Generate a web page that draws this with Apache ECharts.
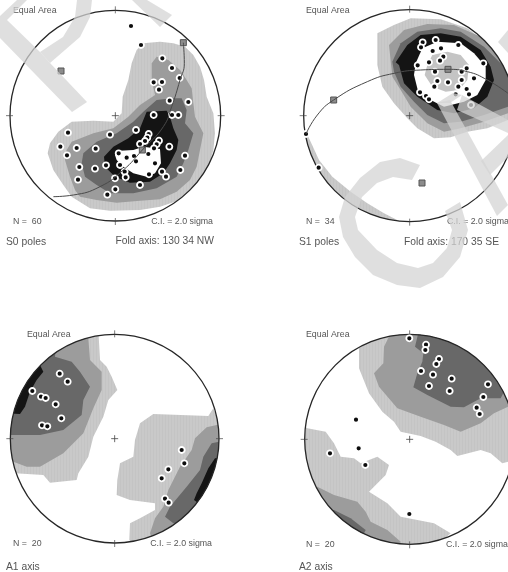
<!DOCTYPE html>
<html><head><meta charset="utf-8">
<style>html,body{margin:0;padding:0;background:#fff;overflow:hidden}#c{width:508px;height:572px;filter:blur(0.4px)}</style>
<script src="https://cdn.jsdelivr.net/npm/echarts@6/dist/echarts.min.js"></script>
</head><body><div id="c"></div>
<script>
// Net frames: centre x, centre y, radius, in plot units of each panel
const net1 = [346, 347, 316];
const net2 = [467, 347, 318];
const net3 = [344, 386, 313];
const net4 = [467, 388, 315];

// Panel S0 poles: contour polygons
const s0L1 = [[410,150],[430,130],[480,125],[520,130],[555,140],[580,165],[600,200],[612,240],[620,290],[640,340],[645,400],[640,450],[620,520],[590,560],[540,600],[480,620],[420,630],[330,632],[270,625],[215,590],[190,555],[160,510],[143,460],[150,430],[175,395],[215,365],[280,362],[340,365],[365,340],[368,290],[385,240],[395,190]];
const s0L2 = [[455,190],[470,170],[505,180],[540,210],[560,240],[575,265],[580,310],[585,350],[610,400],[600,450],[590,500],[570,540],[530,575],[480,598],[420,602],[350,608],[290,600],[240,590],[225,570],[210,530],[195,480],[200,450],[215,425],[280,400],[340,385],[385,350],[420,315],[465,285],[455,240]];
const s0L3 = [[430,335],[470,300],[515,295],[545,295],[560,330],[555,370],[580,400],[565,450],[550,490],[530,530],[470,565],[400,580],[330,580],[290,555],[255,530],[245,490],[250,460],[290,425],[350,400],[400,365]];
const s0L4 = [[440,335],[500,332],[510,350],[520,385],[535,420],[530,450],[510,490],[490,520],[450,545],[390,548],[345,530],[315,500],[312,470],[340,440],[385,415],[420,385]];
const s0L5 = [[360,452],[400,450],[430,440],[480,447],[483,490],[465,520],[440,530],[400,520],[370,500],[350,480],[345,465]];
const s0Points = [[393,78],[423,135],[487,175],[516,204],[539,234],[461,247],[486,246],[477,269],[509,302],[565,306],[461,345],[516,345],[535,345],[408,390],[330,404],[204,398],[181,440],[230,444],[201,466],[287,446],[446,402],[442,413],[435,423],[420,432],[477,422],[470,433],[462,445],[508,440],[445,462],[356,460],[380,473],[402,468],[408,484],[555,467],[465,490],[238,501],[285,506],[318,496],[360,495],[541,510],[486,515],[498,530],[447,523],[374,515],[377,532],[345,535],[234,539],[420,555],[346,568],[322,584]];
const s0Axes = [[550,128],[183,213],[427,450]];
const s0Girdle = [[550,128],[553,190],[540,240],[515,320],[490,380],[427,450],[370,510],[300,560],[220,585],[160,590]];

// Panel S1 poles
const s1L1 = [[370,100],[420,75],[470,55],[560,58],[640,85],[700,130],[762,200],[762,360],[700,385],[640,395],[590,412],[540,415],[490,385],[460,355],[420,310],[385,260],[370,195]];
const s1L2 = [[405,135],[450,90],[520,72],[600,75],[680,110],[762,200],[762,340],[690,365],[620,385],[570,395],[520,370],[470,320],[440,270],[415,230]];
const s1L3 = [[415,185],[440,130],[490,95],[560,85],[620,95],[690,140],[740,190],[762,215],[762,320],[690,345],[620,365],[570,370],[520,345],[480,305],[440,260],[420,215]];
const s1L4 = [[425,187],[460,135],[500,105],[560,100],[620,110],[680,150],[710,200],[720,240],[700,290],[660,325],[600,340],[550,330],[490,290],[450,250],[435,195]];
const s1L5 = [[485,190],[505,145],[550,125],[620,130],[660,160],[695,200],[695,240],[670,285],[630,305],[570,320],[530,300],[490,265],[480,225]];
const s1L6 = [[520,195],[535,165],[580,155],[620,165],[645,195],[640,240],[615,270],[575,275],[535,260],[512,225]];
const s1Rim = [[158,400],[172,430],[195,480],[235,530],[290,575],[340,610],[390,640],[440,665],[300,700],[100,500]];
const s1Points = [[506,127],[545,120],[501,142],[536,153],[561,145],[613,135],[568,170],[558,182],[525,187],[491,196],[688,190],[638,205],[623,215],[543,215],[660,235],[623,240],[550,243],[582,247],[541,260],[613,260],[638,267],[605,283],[645,283],[651,315],[498,277],[516,288],[525,298],[156,402],[194,503]];
const s1Axes = [[582,208],[239,300],[504,549]];
const s1Girdle = [[762,280],[700,240],[640,215],[582,208],[500,210],[420,220],[340,245],[239,300],[190,345],[156,402]];

// Panel A1 axis
const a1L1a = [[265,60],[295,60],[300,150],[320,170],[335,200],[352,240],[325,270],[310,320],[280,380],[265,440],[235,490],[230,510],[150,518],[130,495],[45,490],[0,490],[0,300],[100,60]];
const a1L2a = [[235,60],[265,85],[270,150],[305,185],[305,240],[280,295],[250,370],[190,430],[120,470],[80,470],[40,455],[0,400],[0,250],[100,60]];
const a1L3a = [[170,80],[165,140],[215,155],[240,185],[270,230],[250,270],[245,315],[190,360],[120,375],[30,375],[0,300],[0,200],[100,80]];
const a1L4a = [[120,165],[130,185],[110,210],[90,245],[75,290],[60,312],[10,310],[10,280],[60,180]];
const a1L1b = [[460,312],[625,318],[640,295],[680,400],[670,600],[560,680],[420,720],[388,690],[390,640],[420,625],[465,600],[465,580],[390,570],[350,555],[352,510],[360,460],[400,440],[405,390],[420,340]];
const a1L2b = [[650,345],[620,352],[585,385],[575,420],[540,470],[505,540],[490,590],[465,625],[450,670],[470,720],[720,600],[720,340]];
const a1L3b = [[660,395],[635,400],[610,440],[600,480],[560,530],[510,590],[495,620],[520,640],[600,640],[700,500],[700,395]];
const a1L4b = [[645,445],[625,475],[605,520],[590,550],[582,570],[610,590],[700,520],[700,440]];
const a1Points = [[179,191],[203,215],[97,243],[123,260],[137,264],[167,283],[184,325],[126,346],[142,349],[545,420],[553,460],[505,478],[485,505],[495,566],[506,578]];

// Panel A2 axis
const a2L1a = [[315,115],[315,175],[345,250],[385,305],[420,335],[440,365],[500,378],[545,395],[590,420],[610,438],[680,420],[710,430],[745,460],[762,455],[800,300],[600,60],[470,50],[340,90]];
const a2L2a = [[415,60],[390,110],[388,160],[360,190],[375,230],[430,295],[500,320],[570,345],[620,365],[680,340],[720,310],[762,290],[800,200],[600,50],[470,50]];
const a2L3a = [[495,60],[483,110],[508,130],[505,155],[490,190],[478,232],[520,255],[590,290],[630,292],[680,265],[740,265],[800,150],[600,40]];
const a2L1b = [[160,355],[215,365],[240,400],[260,440],[300,445],[320,460],[370,440],[405,465],[395,495],[345,545],[400,580],[440,620],[540,640],[590,670],[520,730],[300,730],[100,500],[140,340]];
const a2L2b = [[190,530],[240,555],[310,575],[335,605],[350,635],[400,660],[440,695],[430,730],[250,730],[130,550]];
const a2L3b = [[240,600],[290,625],[335,660],[320,690],[230,680],[190,600]];
const a2Points = [[466,85],[516,104],[514,120],[555,147],[547,162],[501,183],[537,194],[593,206],[525,228],[587,243],[702,223],[688,261],[668,293],[677,312],[306,329],[314,415],[334,465],[228,430],[466,612]];

// Tick labels / annotations
const netLabel = 'Equal Area';
const ciLabel = 'C.I. = 2.0 sigma';
const countLabels = ['N =  60', 'N =  34', 'N =  20', 'N =  20'];
const panelLabels = ['S0 poles', 'S1 poles', 'A1 axis', 'A2 axis'];
const foldLabels = ['Fold axis: 130 34 NW', 'Fold axis: 170 35 SE'];

// Contour fills
const stripe = document.createElement('canvas');
stripe.width = 3; stripe.height = 3;
(function () {
  const g = stripe.getContext('2d');
  g.fillStyle = '#c9c9c9'; g.fillRect(0, 0, 3, 3);
  g.fillStyle = '#c4c4c4'; g.fillRect(0, 0, 1, 3);
})();
const fillL1 = { type: 'pattern', image: stripe, repeat: 'repeat' };
const fillL2 = '#9c9c9c', fillL3 = '#686868', fillL4 = '#141414', fillL5 = '#ffffff', fillL6 = '#c4c4c4';

const panels = [
  { rect: [0, 0, 254, 260], range: [762, 780], net: net1, points: s0Points, axes: s0Axes, girdle: s0Girdle,
    layers: [[s0L1, fillL1], [s0L2, fillL2], [s0L3, fillL3], [s0L4, fillL4], [s0L5, fillL5]] },
  { rect: [254, 0, 254, 260], range: [762, 780], net: net2, points: s1Points, axes: s1Axes, girdle: s1Girdle,
    layers: [[s1Rim, fillL1], [s1L1, fillL1], [s1L2, fillL2], [s1L3, fillL3], [s1L4, fillL4], [s1L5, fillL5], [s1L6, fillL6]] },
  { rect: [0, 310, 254, 262], range: [762, 786], net: net3, points: a1Points,
    layers: [[a1L1a, fillL1], [a1L2a, fillL2], [a1L3a, fillL3], [a1L4a, fillL4], [a1L1b, fillL1], [a1L2b, fillL2], [a1L3b, fillL3], [a1L4b, fillL4]] },
  { rect: [254, 310, 254, 262], range: [762, 786], net: net4, points: a2Points,
    layers: [[a2L1a, fillL1], [a2L2a, fillL2], [a2L3a, fillL3], [a2L1b, fillL1], [a2L2b, fillL2], [a2L3b, fillL3]] }
];

const grid = [], xAxis = [], yAxis = [], series = [];
panels.forEach(function (p, i) {
  grid.push({ left: p.rect[0], top: p.rect[1], width: p.rect[2], height: p.rect[3], show: false });
  xAxis.push({ gridIndex: i, type: 'value', show: false, min: 0, max: p.range[0] });
  yAxis.push({ gridIndex: i, type: 'value', show: false, min: 0, max: p.range[1], inverse: true });
  const cx = p.net[0], cy = p.net[1], r = p.net[2];
  p.layers.forEach(function (layer) {
    series.push({
      type: 'custom', xAxisIndex: i, yAxisIndex: i, coordinateSystem: 'cartesian2d', clip: false, silent: true,
      data: layer[0], encode: { x: 0, y: 1 },
      renderItem: function (params, api) {
        if (params.dataIndex !== 0) return null;
        const c = api.coord([cx, cy]), rad = api.size([r, 0])[0];
        return {
          type: 'polygon',
          shape: { points: layer[0].map(function (q) { return api.coord(q); }) },
          style: { fill: layer[1] },
          clipPath: { type: 'circle', shape: { cx: c[0], cy: c[1], r: rad } }
        };
      }
    });
  });
  if (p.girdle) {
    series.push({ type: 'line', xAxisIndex: i, yAxisIndex: i, data: p.girdle, smooth: true, showSymbol: false, silent: true, clip: true,
      lineStyle: { color: '#4a4a4a', width: 1 } });
  }
  series.push({
    type: 'custom', xAxisIndex: i, yAxisIndex: i, coordinateSystem: 'cartesian2d', clip: true, silent: true,
    data: [p.net], encode: { x: 0, y: 1 },
    renderItem: function (params, api) {
      const c = api.coord([cx, cy]), rad = api.size([r, 0])[0];
      const line = function (x1, y1, x2, y2, w) {
        return { type: 'line', shape: { x1: x1, y1: y1, x2: x2, y2: y2 }, style: { stroke: '#444', lineWidth: w } };
      };
      return { type: 'group', children: [
        { type: 'circle', shape: { cx: c[0], cy: c[1], r: rad }, style: { fill: null, stroke: '#262626', lineWidth: 1.3 } },
        line(c[0], c[1] - rad - 4, c[0], c[1] - rad + 3, 0.7),
        line(c[0], c[1] + rad - 3, c[0], c[1] + rad + 4, 0.7),
        line(c[0] - rad - 4, c[1], c[0] - rad + 3, c[1], 0.7),
        line(c[0] + rad - 3, c[1], c[0] + rad + 4, c[1], 0.7),
        line(c[0] - 3.5, c[1], c[0] + 3.5, c[1], 0.8),
        line(c[0], c[1] - 3.5, c[0], c[1] + 3.5, 0.8)
      ] };
    }
  });
  series.push({ type: 'scatter', xAxisIndex: i, yAxisIndex: i, data: p.points, symbol: 'circle', symbolSize: 6, silent: true,
    itemStyle: { color: '#0d0d0d', borderColor: '#fff', borderWidth: 1.8, opacity: 1 } });
  if (p.axes) {
    series.push({ type: 'scatter', xAxisIndex: i, yAxisIndex: i, data: p.axes, symbol: 'rect', symbolSize: 6, silent: true,
      itemStyle: { color: '#8c8c8c', borderColor: '#555', borderWidth: 1, opacity: 1 } });
  }
});

function txt(s, x, y, size, align) {
  return { type: 'text', z: 50, style: { text: s, x: x, y: y, fill: '#555', font: size + 'px "Liberation Sans", Arial, sans-serif', textAlign: align || 'left', textVerticalAlign: 'middle' } };
}
const texts = [
  txt(netLabel, 13, 11, 8.8), txt(netLabel, 306, 11, 8.8), txt(netLabel, 27, 335, 8.8), txt(netLabel, 306, 335, 8.8),
  txt(countLabels[0], 13, 221.5, 8.8), txt(countLabels[1], 306, 222, 8.8), txt(countLabels[2], 13, 544, 8.8), txt(countLabels[3], 306, 545, 8.8),
  txt(ciLabel, 213, 221.5, 8.8, 'right'), txt(ciLabel, 447, 222, 8.8), txt(ciLabel, 212, 544, 8.8, 'right'), txt(ciLabel, 446, 545, 8.8),
  txt(panelLabels[0], 6, 242, 10.3), txt(panelLabels[1], 299, 242, 10.3), txt(panelLabels[2], 6, 567, 10.3), txt(panelLabels[3], 299, 567, 10.3),
  txt(foldLabels[0], 214, 241, 10.3, 'right'), txt(foldLabels[1], 499, 242, 10.3, 'right')
];

// Proof watermark laid across the page
const wmStyle = { fill: 'rgba(212,212,212,0.74)' };
function wm(pts) { return { type: 'polygon', z: 100, silent: true, shape: { points: pts }, style: wmStyle }; }
const watermark = [
  wm([[0,16],[17,0],[27,0],[7,20],[40,52],[50,63],[87,102],[72,112],[0,38]]),
  wm([[77,0],[92,0],[90,17],[80,37],[50,63],[40,52],[63,37],[75,17]]),
  wm([[132,0],[147,0],[172,15],[160,27]]),
  wm([[420,165],[400,158],[380,162],[360,178],[345,197],[339,217],[343,237],[355,257],[373,275],[397,285],[420,288],[443,277],[460,257],[468,230],[460,202],[445,211],[452,230],[447,248],[433,263],[418,268],[397,263],[377,250],[358,230],[355,217],[362,197],[377,183],[393,177],[412,180]]),
  wm([[437,103],[453,93],[462,95],[450,103]]),
  wm([[437,103],[450,100],[508,205],[497,216]]),
  wm([[462,95],[508,120],[508,133],[457,110]]),
  wm([[481,161],[508,135],[508,157],[490,175]]),
  wm([[498,42],[508,30],[508,53]])
];

const chart = echarts.init(document.getElementById('c'), null, { renderer: 'canvas' });
chart.setOption({
  animation: false, backgroundColor: '#fff', tooltip: { show: false }, legend: { show: false },
  grid: grid, xAxis: xAxis, yAxis: yAxis, series: series,
  graphic: { elements: texts.concat(watermark) }
});
</script></body></html>
